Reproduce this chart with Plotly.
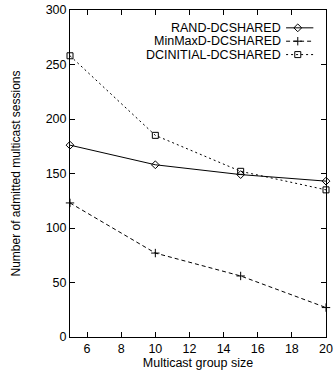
import plotly.graph_objects as go

group_size = [5, 10, 15, 20]
rand_dcshared = [176, 158, 149, 143]
minmaxd_dcshared = [123, 77, 56, 27]
dcinitial_dcshared = [258, 185, 152, 135]
series_names = ["RAND-DCSHARED", "MinMaxD-DCSHARED", "DCINITIAL-DCSHARED"]

FONT = "Liberation Sans, Arial, sans-serif"
styles = [
    dict(dash="solid", symbol="diamond-open", size=6),
    dict(dash="4px,3px", symbol="cross-thin-open", size=6),
    dict(dash="2px,3px", symbol="square-open", size=6),
]
data = [rand_dcshared, minmaxd_dcshared, dcinitial_dcshared]

fig = go.Figure()
for name, ys, st in zip(series_names, data, styles):
    fig.add_trace(go.Scatter(
        x=group_size, y=ys, mode="lines+markers", name=name,
        line=dict(color="black", width=1, dash=st["dash"]),
        marker=dict(symbol=st["symbol"], size=st["size"], color="black",
                    line=dict(color="black", width=1)),
        cliponaxis=False, showlegend=False,
    ))

# manual gnuplot-style legend (text right, sample on the right)
leg_y = [(338 - 26) / 330, (338 - 39.5) / 330, (338 - 53) / 330]
x0, x1, xm = (292 - 70) / 263, (320 - 70) / 263, (304 - 70) / 263
xt = (288 - 70) / 263
for name, st, ly in zip(series_names, styles, leg_y):
    fig.add_trace(go.Scatter(
        x=[x0, x1], y=[ly, ly], mode="lines", xaxis="x2", yaxis="y2",
        line=dict(color="black", width=1, dash=st["dash"]), showlegend=False,
        hoverinfo="skip"))
    fig.add_trace(go.Scatter(
        x=[xm], y=[ly], mode="markers", xaxis="x2", yaxis="y2",
        marker=dict(symbol=st["symbol"], size=st["size"], color="black",
                    line=dict(color="black", width=1)), showlegend=False,
        hoverinfo="skip"))
    fig.add_annotation(x=xt, y=ly, xref="x2", yref="y2", text=name,
                       showarrow=False, xanchor="right", yanchor="middle",
                       borderpad=0,
                       font=dict(family=FONT, size=12.5, color="black"))

axis_common = dict(showgrid=False, zeroline=False, showline=True, linecolor="black",
                   linewidth=1, mirror="allticks", ticks="inside", ticklen=5,
                   tickcolor="black", tickfont=dict(family=FONT, size=12.5, color="black"))

fig.update_layout(
    width=336, height=370,
    margin=dict(l=70, r=3, t=8, b=32),
    plot_bgcolor="white", paper_bgcolor="white",
    font=dict(family=FONT, size=12.5, color="black"),
    xaxis=dict(range=[5, 20], tick0=0, dtick=2, ticklabeloverflow="allow",
               title=dict(text="Multicast group size", standoff=2,
                          font=dict(family=FONT, size=12.5)), **axis_common),
    yaxis=dict(range=[0, 300], tick0=0, dtick=50,
               title=dict(text="Number of admitted multicast sessions", standoff=22,
                          font=dict(family=FONT, size=12)), **axis_common),
    xaxis2=dict(overlaying="x", range=[0, 1], visible=False),
    yaxis2=dict(overlaying="y", range=[0, 1], visible=False),
)

fig.write_html("out.html")
